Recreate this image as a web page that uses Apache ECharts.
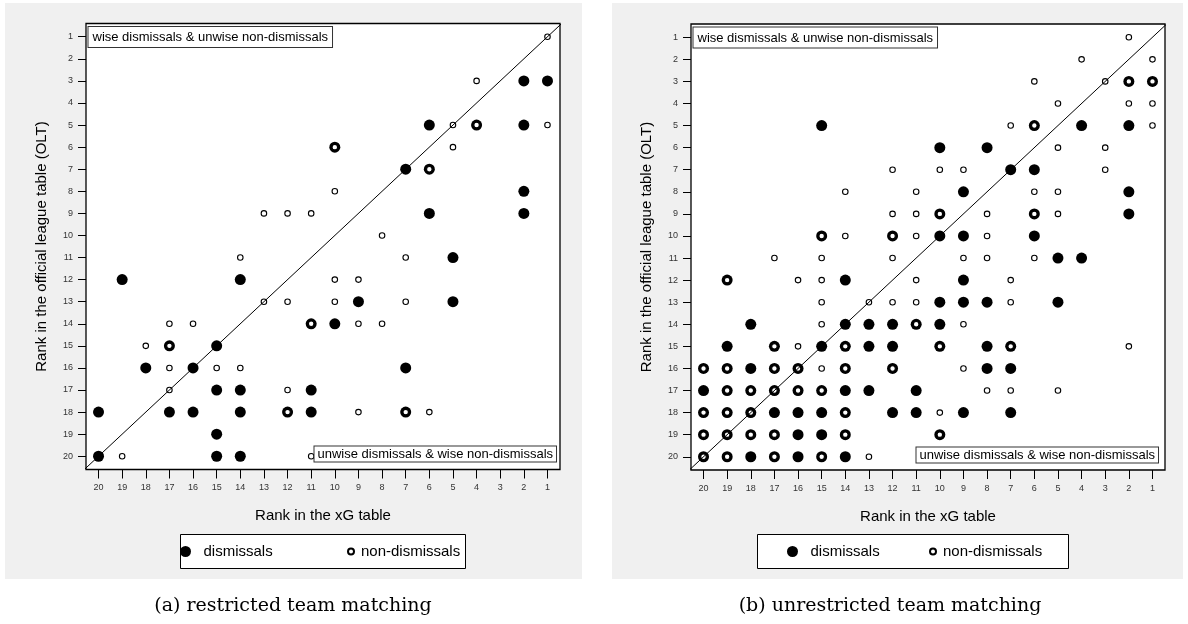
<!DOCTYPE html>
<html>
<head>
<meta charset="utf-8">
<script src="https://cdn.jsdelivr.net/npm/echarts@6/dist/echarts.min.js"></script>
<style>html,body{margin:0;padding:0;background:#fff}#c{width:1188px;height:624px}</style>
</head>
<body>
<div id="c"></div>
<script>
// Rank ticks (both axes)
const ticks = [1,2,3,4,5,6,7,8,9,10,11,12,13,14,15,16,17,18,19,20];

// (a) restricted team matching: [xG rank, OLT rank]
const leftDismissals = [
  [2,3],[1,3],[2,5],[4,5],[6,5],[10,6],[7,7],[6,7],[2,8],[2,9],[6,9],
  [19,12],[14,12],[5,11],[9,13],[5,13],[11,14],[10,14],[17,15],[15,15],
  [18,16],[16,16],[7,16],[15,17],[14,17],[11,17],[20,18],[17,18],[16,18],
  [14,18],[12,18],[11,18],[7,18],[15,19],[20,20],[15,20],[14,20]
];
const leftNonDismissals = [
  [1,1],[4,3],[1,5],[4,5],[5,5],[5,6],[10,6],[6,7],[10,8],[13,9],[12,9],
  [11,9],[8,10],[14,11],[7,11],[10,12],[9,12],[13,13],[12,13],[10,13],[7,13],
  [17,14],[16,14],[11,14],[9,14],[8,14],[18,15],[17,15],[17,16],[15,16],
  [14,16],[17,17],[12,17],[12,18],[9,18],[7,18],[6,18],[19,20],[11,20]
];

// (b) unrestricted team matching
const rightDismissals = [
  [15,5],[15,10],[12,10],[2,3],[1,3],[6,5],[4,5],[2,5],[10,6],[8,6],[7,7],
  [6,7],[9,8],[2,8],[10,9],[6,9],[2,9],[10,10],[9,10],[6,10],[19,12],[14,12],
  [18,14],[14,14],[13,14],[12,14],[11,14],[19,15],[17,15],[15,15],[14,15],
  [13,15],[12,15],[20,16],[19,16],[18,16],[17,16],[16,16],[14,16],[12,16],
  [20,17],[19,17],[18,17],[17,17],[16,17],[15,17],[14,17],[13,17],[11,17],
  [20,18],[19,18],[18,18],[17,18],[16,18],[15,18],[14,18],[12,18],[11,18],
  [20,19],[19,19],[18,19],[17,19],[16,19],[15,19],[14,19],[20,20],[19,20],
  [18,20],[17,20],[16,20],[15,20],[14,20],[5,11],[4,11],[9,12],[10,13],
  [9,13],[8,13],[5,13],[10,14],[10,15],[8,15],[7,15],[8,16],[7,16],[9,18],
  [7,18],[10,19]
];
const rightNonDismissals = [
  [2,1],[4,2],[1,2],[6,3],[3,3],[2,3],[1,3],[5,4],[2,4],[1,4],[7,5],[6,5],
  [1,5],[5,6],[3,6],[12,7],[10,7],[9,7],[3,7],[14,8],[11,8],[6,8],[5,8],
  [12,9],[11,9],[10,9],[8,9],[6,9],[5,9],[15,10],[14,10],[12,10],[11,10],
  [8,10],[17,11],[15,11],[12,11],[9,11],[8,11],[6,11],[19,12],[16,12],
  [15,12],[11,12],[7,12],[15,13],[13,13],[12,13],[11,13],[7,13],[15,14],
  [11,14],[9,14],[17,15],[16,15],[14,15],[10,15],[7,15],[2,15],[20,16],
  [19,16],[17,16],[16,16],[15,16],[14,16],[12,16],[9,16],[19,17],[18,17],
  [17,17],[16,17],[15,17],[8,17],[7,17],[5,17],[20,18],[19,18],[18,18],
  [14,18],[10,18],[20,19],[19,19],[18,19],[17,19],[14,19],[10,19],[20,20],
  [19,20],[17,20],[15,20],[13,20]
];

// 45-degree reference line (equal ranks)
const diagonal = [[20.6,20.6],[0.4,0.4]];

const FONT = 'Liberation Sans, Arial, sans-serif';

function xAx(gi){
  return {
    type:'value', gridIndex:gi, inverse:true, min:0.47, max:20.53,
    position:'bottom',
    name:'Rank in the xG table', nameLocation:'middle', nameGap:39,
    nameTextStyle:{fontSize:15, color:'#000', fontFamily:FONT},
    splitLine:{show:false},
    axisLine:{show:false, onZero:false},
    axisTick:{show:true, inside:false, length:9, lineStyle:{color:'#000', width:1}, customValues:ticks},
    axisLabel:{fontSize:9, color:'#333', fontFamily:FONT, margin:14, customValues:ticks}
  };
}
function yAx(gi){
  return {
    type:'value', gridIndex:gi, inverse:true, min:0.4, max:20.6,
    position:'left',
    name:'Rank in the official league table (OLT)', nameLocation:'middle', nameGap:37,
    nameTextStyle:{fontSize:15, color:'#000', fontFamily:FONT},
    splitLine:{show:false},
    axisLine:{show:false, onZero:false},
    axisTick:{show:true, inside:false, length:8, lineStyle:{color:'#000', width:1}, customValues:ticks},
    axisLabel:{fontSize:9, color:'#333', fontFamily:FONT, margin:13, customValues:ticks}
  };
}
function seriesFor(gi, dis, non){
  return [
    {type:'scatter', name:'dismissals', xAxisIndex:gi, yAxisIndex:gi, data:dis,
     symbol:'circle', symbolSize:11, itemStyle:{color:'#000', opacity:1}, z:2, silent:true},
    {type:'scatter', name:'non-dismissals', xAxisIndex:gi, yAxisIndex:gi, data:non,
     symbol:'circle', symbolSize:5.5, itemStyle:{color:'#fff', borderColor:'#000', borderWidth:1.1, opacity:1}, z:3, silent:true},
    {type:'line', name:'diag', xAxisIndex:gi, yAxisIndex:gi, data:diagonal, showSymbol:false,
     symbol:'none', lineStyle:{color:'#000', width:1}, z:4, silent:true, clip:true}
  ];
}
function annot(text, x, y, pad){
  return {type:'text', z:50, silent:true, style:{
    text:text, x:x, y:y, font:'13px ' + FONT, fill:'#000',
    backgroundColor:'#fff', borderColor:'#333', borderWidth:1, padding:pad
  }};
}

const chart = echarts.init(document.getElementById('c'), null, {renderer:'canvas'});
chart.setOption({
  animation:false,
  backgroundColor:'#fff',
  grid:[
    {left:86, top:23.5, width:474, height:446, show:true, backgroundColor:'#fff', borderColor:'#000', borderWidth:1.3, z:1},
    {left:691, top:24, width:474, height:446, show:true, backgroundColor:'#fff', borderColor:'#000', borderWidth:1.3, z:1}
  ],
  xAxis:[xAx(0), xAx(1)],
  yAxis:[yAx(0), yAx(1)],
  legend:[
    {data:['dismissals'], left:180, top:544, itemWidth:26, itemHeight:11, padding:0, selectedMode:false,
     textStyle:{fontSize:15, color:'#000', fontFamily:FONT}},
    {data:['non-dismissals'], left:347, top:544, itemWidth:10, itemHeight:6, padding:0, selectedMode:false,
     textStyle:{fontSize:15, color:'#000', fontFamily:FONT}},
    {data:['dismissals'], left:787, top:544, itemWidth:26, itemHeight:11, padding:0, selectedMode:false,
     textStyle:{fontSize:15, color:'#000', fontFamily:FONT}},
    {data:['non-dismissals'], left:929, top:544, itemWidth:10, itemHeight:6, padding:0, selectedMode:false,
     textStyle:{fontSize:15, color:'#000', fontFamily:FONT}}
  ],
  graphic:[
    {type:'rect', z:-5, silent:true, shape:{x:5, y:3, width:577, height:576}, style:{fill:'#f0f0f0'}},
    {type:'rect', z:-5, silent:true, shape:{x:612, y:3, width:571, height:576}, style:{fill:'#f0f0f0'}},
    {type:'rect', z:-4, silent:true, shape:{x:180.5, y:534.5, width:285, height:34}, style:{fill:'#fff', stroke:'#000', lineWidth:1}},
    {type:'rect', z:-4, silent:true, shape:{x:757.5, y:534.5, width:311, height:34}, style:{fill:'#fff', stroke:'#000', lineWidth:1}},
    annot('wise dismissals & unwise non-dismissals', 88.5, 27, [4,4,3,4]),
    annot('unwise dismissals & wise non-dismissals', 314.5, 446.5, [1,3,1,3]),
    annot('wise dismissals & unwise non-dismissals', 693.5, 27.5, [4,4,3,4]),
    annot('unwise dismissals & wise non-dismissals', 916.5, 447.5, [1,3,1,3]),
    {type:'text', z:50, silent:true, style:{text:'(a) restricted team matching', x:293, y:606,
      font:'19px "DejaVu Serif", serif', fill:'#000', align:'center', verticalAlign:'middle'}},
    {type:'text', z:50, silent:true, style:{text:'(b) unrestricted team matching', x:890, y:606,
      font:'19px "DejaVu Serif", serif', fill:'#000', align:'center', verticalAlign:'middle'}}
  ],
  series:[].concat(
    seriesFor(0, leftDismissals, leftNonDismissals),
    seriesFor(1, rightDismissals, rightNonDismissals)
  )
});
</script>
</body>
</html>
